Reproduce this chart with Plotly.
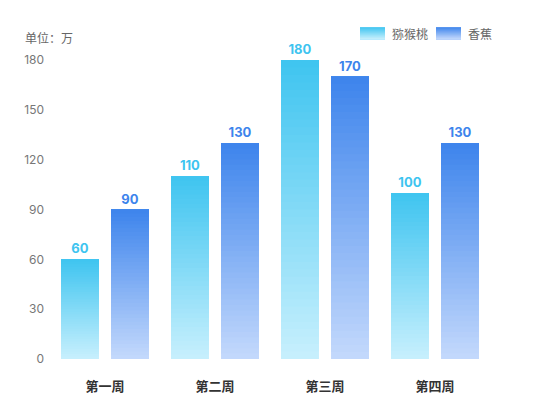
import plotly.graph_objects as go

weeks = ['第一周', '第二周', '第三周', '第四周']
kiwi = [60, 110, 180, 100]
banana = [90, 130, 170, 130]
y_ticks = [0, 30, 60, 90, 120, 150, 180]

FONT = 'Noto Sans CJK SC'
NUM_FONT = 'Inter, Noto Sans CJK SC'
N_STEPS = 40

# top colour, bottom colour for each series
KIWI_COLORS = ((62, 196, 240), (200, 240, 253))
BANANA_COLORS = ((61, 132, 236), (196, 217, 252))

BAR_W = 0.345
GAP = 0.11


def mix(c_top, c_bot, t):
    # t = 0 at bottom, 1 at top
    r, g, b = [round(c_bot[i] + (c_top[i] - c_bot[i]) * t) for i in range(3)]
    return f'rgb({r},{g},{b})'


def gradient_bars(fig, values, colors, offset, name):
    top, bot = colors
    # overlapping layers, each one starting a bit higher, give the fade
    for k in range(N_STEPS):
        t = (k + 0.5) / N_STEPS
        fig.add_trace(go.Bar(
            x=weeks, y=[v * (N_STEPS - k) / N_STEPS for v in values],
            base=[v * k / N_STEPS for v in values],
            offset=offset, width=BAR_W,
            marker=dict(color=mix(top, bot, t), line=dict(width=0)),
            showlegend=False, hoverinfo='skip'))
    # value labels on top
    fig.add_trace(go.Bar(
        x=weeks, y=values, name=name,
        offset=offset, width=BAR_W,
        marker=dict(color='rgba(0,0,0,0)', line=dict(width=0)),
        text=values, textposition='outside', cliponaxis=False,
        textfont=dict(family=NUM_FONT, size=13, weight='bold', color=mix(top, bot, 1)),
        showlegend=False))


fig = go.Figure()
gradient_bars(fig, kiwi, KIWI_COLORS, -(BAR_W + GAP / 2), '猕猴桃')
gradient_bars(fig, banana, BANANA_COLORS, GAP / 2, '香蕉')

# legend swatches: overlapping rects fading downwards
shapes = []
annotations = []
legend_items = [('猕猴桃', KIWI_COLORS, 0.7045, 0.7727), ('香蕉', BANANA_COLORS, 0.8773, 0.9455)]
y_top, y_bot = 1.110, 1.070
for label, (top, bot), x0, tx in legend_items:
    n = 12
    for k in range(n):
        t = 1 - (k + 0.5) / n
        shapes.append(dict(
            type='rect', xref='paper', yref='paper',
            x0=x0, x1=x0 + 0.0568,
            y0=y_bot,
            y1=y_top - (y_top - y_bot) * k / n,
            fillcolor=mix(top, bot, t), line=dict(width=0), layer='above'))
    annotations.append(dict(
        text=label, xref='paper', yref='paper', x=tx, y=1.090,
        xanchor='left', yanchor='middle', showarrow=False,
        font=dict(family=FONT, size=12, color='#666666')))

annotations.append(dict(
    text='单位：万', xref='paper', yref='paper', x=-0.0614, y=1.0736,
    xanchor='left', yanchor='middle', showarrow=False,
    font=dict(family=FONT, size=12, color='#666666')))

fig.update_layout(
    width=550, height=420,
    margin=dict(l=42, r=68, t=52, b=69),
    plot_bgcolor='white', paper_bgcolor='white',
    barmode='overlay',
    showlegend=False,
    font=dict(family=FONT),
    shapes=shapes, annotations=annotations,
    xaxis=dict(
        showgrid=False, showline=False, zeroline=False,
        ticks='', ticklabelstandoff=18,
        tickfont=dict(family=FONT, size=13, color='#333333', weight='bold'),
    ),
    yaxis=dict(
        range=[0, 180], tickvals=y_ticks,
        showgrid=False, showline=False, zeroline=False,
        ticks='', ticklabelstandoff=5,
        tickfont=dict(family=NUM_FONT, size=12, color='#777777'),
    ),
)

fig.write_html('out.html')
